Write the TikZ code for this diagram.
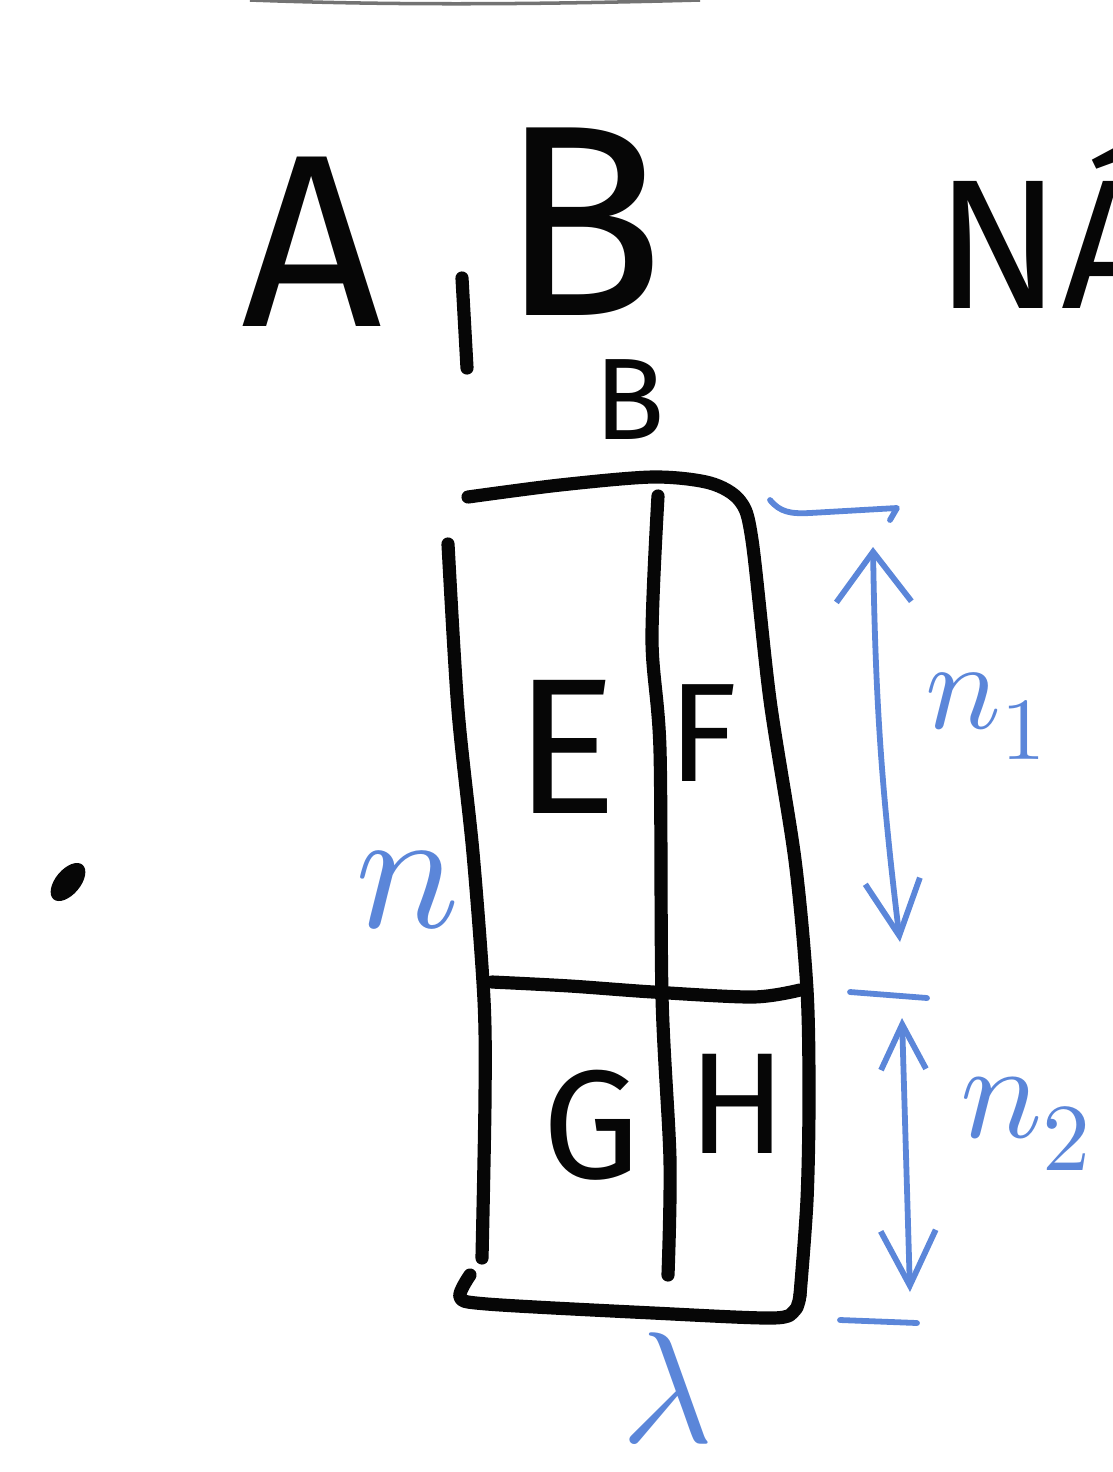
\documentclass[tikz,border=0pt]{standalone}
\usepackage{fontspec}
\usepackage{unicode-math}
\setmainfont{Fira Sans}
\usepackage{xcolor}
\definecolor{InkBlack}{HTML}{060606}
\definecolor{PenBlue}{HTML}{5B86D9}
\usepackage{tikz}
\usetikzlibrary{arrows.meta}
\tikzset{
  inkstroke/.style={
    draw=InkBlack,
    line width=7.5pt,
    line cap=round,
    line join=round
  },
  inkletter/.style={
    text=InkBlack,
    inner sep=0pt
  },
  penstroke/.style={
    draw=PenBlue,
    line width=3.3pt,
    line cap=round,
    line join=round
  },
  penletter/.style={
    text=PenBlue,
    inner sep=0pt
  },
  bigarrow/.style={
    penstroke,
    {Straight Barb[length=1cm,width=1.5cm]}-{Straight Barb[length=1.1cm,width=1.1cm]}
  },
  smallarrow/.style={
    penstroke,
    {Straight Barb[length=0.9cm,width=0.9cm]}-{Straight Barb[length=1.1cm,width=1.1cm]}
  }
}

\begin{document}
\begin{tikzpicture}[x=0.02cm,y=-0.02cm]
  \useasboundingbox (0,0) rectangle (1113,1472);
  \clip (0,0) rectangle (1113,1472);
  \draw[line width=2pt,black!55] (250,0) .. controls (380,5) and (520,5) .. (700,0);

  \node[inkletter,font=\fontsize{140pt}{140pt}\selectfont] (lblA) at (312,242) {A};
  \draw[inkstroke] (462,278) -- (467,368);
  \node[inkletter,font=\fontsize{155pt}{155pt}\selectfont] (lblB) at (582,222) {B};
  \node[inkletter,font=\fontsize{66pt}{66pt}\selectfont] (lblb) at (630,400) {B};
  \node[inkletter,font=\fontsize{105pt}{105pt}\selectfont,anchor=base west] (lblNA) at (935,308) {NÁ};
  \fill[InkBlack,rotate around={50:(68,882)}] (68,882) ellipse [x radius=0.45cm,y radius=0.25cm];

  \draw[inkstroke] plot[smooth] coordinates {(448,544) (458,710) (473,853) (484,1000) (485,1100) (482,1258)};
  \draw[inkstroke] plot[smooth] coordinates {(468,497) (560,485) (653,477) (710,483) (740,501) (752,540) (770,700) (795,860) (807,990) (809,1100) (807,1200) (800,1295)};
  \draw[inkstroke] plot[smooth] coordinates {(470,1275) (460,1297) (487,1304) (653,1313) (773,1318) (795,1310) (800,1295)};
  \draw[inkstroke] plot[smooth] coordinates {(658,496) (652,640) (660,750) (662,996) (670,1160) (668,1275)};
  \draw[inkstroke] plot[smooth] coordinates {(492,982) (570,986) (653,992) (753,997) (800,990)};

  \node[inkletter,font=\fontsize{110pt}{110pt}\selectfont] (cellE) at (566,747) {E};
  \node[inkletter,font=\fontsize{80pt}{80pt}\selectfont] (cellF) at (703,733) {F};
  \node[inkletter,font=\fontsize{88pt}{88pt}\selectfont] (cellG) at (591,1125) {G};
  \node[inkletter,font=\fontsize{82pt}{82pt}\selectfont] (cellH) at (737,1104) {H};

  \draw[penstroke] (770,500) .. controls (780,512) and (790,514) .. (810,513) -- (897,508) -- (890,520);
  \draw[penstroke] (850,992) -- (927,998);
  \draw[penstroke] (840,1320) -- (917,1323);
  \coordinate (topA) at (873,547);
  \coordinate (botA) at (900,942);
  \coordinate (topB) at (902,1018);
  \coordinate (botB) at (910,1292);
  \draw[bigarrow] (topA) to[bend right=3] (botA);
  \draw[smallarrow] (topB) -- (botB);

  \node[penletter,font=\fontsize{99pt}{99pt}\selectfont,anchor=base west] (lenn) at (355,927) {$n$};
  \node[penletter,font=\fontsize{72pt}{72pt}\selectfont,anchor=base west] (lenone) at (925,728) {$n_1$};
  \node[penletter,font=\fontsize{78pt}{78pt}\selectfont,anchor=base west] (lentwo) at (960,1137) {$n_2$};
  \node[penletter,font=\fontsize{90pt}{90pt}\selectfont,anchor=north] (lenlam) at (668,1332) {$\lambda$};
\end{tikzpicture}
\end{document}
